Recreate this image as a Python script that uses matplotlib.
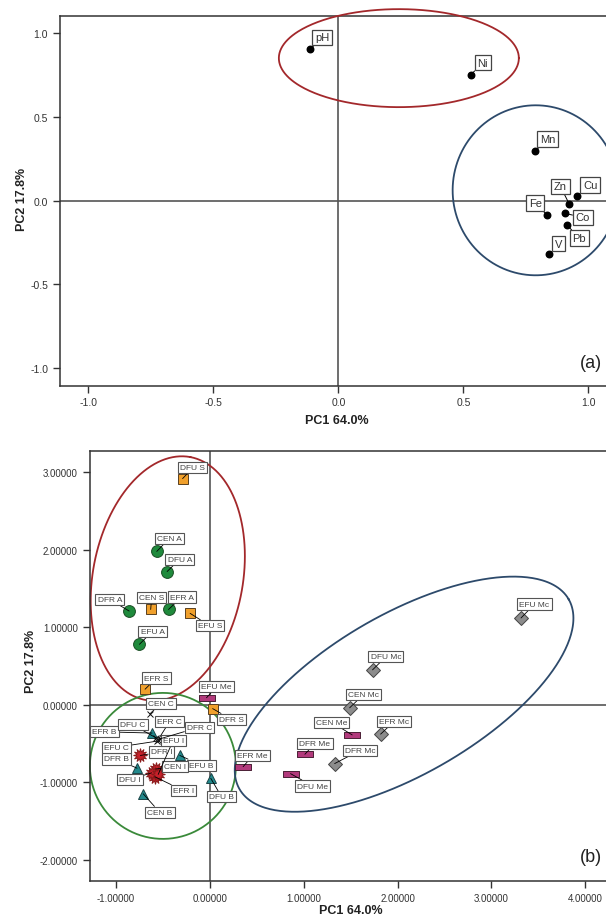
import numpy as np
import matplotlib
matplotlib.use('Agg')
import matplotlib.pyplot as plt
from matplotlib.path import Path
from matplotlib.ticker import FormatStrFormatter

plt.rcParams['font.family'] = ['Liberation Sans', 'DejaVu Sans']

# ---- panel (a): loadings ----
var_names = ['pH', 'Ni', 'Mn', 'Cu', 'Zn', 'Co', 'Fe', 'Pb', 'V']
pc1_load = [-0.113, 0.530, 0.788, 0.955, 0.924, 0.906, 0.835, 0.915, 0.844]
pc2_load = [0.904, 0.753, 0.297, 0.028, -0.022, -0.076, -0.086, -0.146, -0.317]

# ---- panel (b): scores by group ----
names_A = ['CEN A', 'DFU A', 'DFR A', 'EFR A', 'EFU A']
pc1_A = [-0.565, -0.455, -0.86, -0.44, -0.75]
pc2_A = [1.98, 1.72, 1.21, 1.23, 0.78]

names_S = ['DFU S', 'CEN S', 'EFU S', 'EFR S', 'DFR S']
pc1_S = [-0.29, -0.63, -0.21, -0.69, 0.03]
pc2_S = [2.92, 1.23, 1.18, 0.20, -0.05]

names_Me = ['EFU Me', 'CEN Me', 'DFR Me', 'DFU Me', 'EFR Me']
pc1_Me = [-0.035, 1.517, 1.013, 0.86, 0.355]
pc2_Me = [0.09, -0.39, -0.64, -0.89, -0.80]

names_Mc = ['EFU Mc', 'DFU Mc', 'CEN Mc', 'EFR Mc', 'DFR Mc']
pc1_Mc = [3.316, 1.734, 1.49, 1.82, 1.33]
pc2_Mc = [1.12, 0.45, -0.04, -0.38, -0.76]

names_B = ['EFR B', 'EFU B', 'DFR B', 'CEN B', 'DFU B']
pc1_B = [-0.615, -0.32, -0.775, -0.71, 0.01]
pc2_B = [-0.366, -0.655, -0.82, -1.15, -0.95]

names_I = ['DFR I', 'CEN I', 'EFR I', 'DFU I', 'EFU I']
pc1_I = [-0.74, -0.576, -0.586, -0.62, -0.55]
pc2_I = [-0.655, -0.83, -0.93, -0.88, -0.90]

names_C = ['CEN C', 'DFU C', 'EFR C', 'DFR C', 'EFU C']
pc1_C = [-0.64, -0.57, -0.55, -0.53, -0.56]
pc2_C = [-0.12, -0.43, -0.45, -0.44, -0.47]

# label placement (layout only)
lab_off_a = {'pH': (12, 12), 'Ni': (12, 12), 'Mn': (12, 12), 'Cu': (13, 11),
             'Zn': (-9, 18), 'Co': (18, -4), 'Fe': (-12, 12), 'Pb': (12, -13),
             'V': (9, 10)}
lab_pos_b = {
    'CEN A': (-0.43, 2.15), 'DFU A': (-0.32, 1.88), 'DFR A': (-1.066, 1.36),
    'EFR A': (-0.30, 1.39), 'EFU A': (-0.61, 0.95),
    'DFU S': (-0.18, 3.06), 'CEN S': (-0.62, 1.38), 'EFU S': (0.0, 1.02),
    'EFR S': (-0.57, 0.345), 'DFR S': (0.23, -0.19),
    'EFU Me': (0.07, 0.23), 'CEN Me': (1.297, -0.225), 'DFR Me': (1.12, -0.50),
    'DFU Me': (1.095, -1.05), 'EFR Me': (0.455, -0.66),
    'EFU Mc': (3.46, 1.30), 'DFU Mc': (1.876, 0.62), 'CEN Mc': (1.635, 0.13),
    'EFR Mc': (1.965, -0.215), 'DFR Mc': (1.60, -0.59),
    'EFR B': (-1.12, -0.35), 'EFU B': (-0.09, -0.78), 'DFR B': (-0.995, -0.70),
    'CEN B': (-0.533, -1.39), 'DFU B': (0.125, -1.19),
    'DFR I': (-0.515, -0.61), 'CEN I': (-0.373, -0.80), 'EFR I': (-0.28, -1.11),
    'DFU I': (-0.853, -0.965), 'EFU I': (-0.39, -0.46),
    'CEN C': (-0.52, 0.02), 'DFU C': (-0.82, -0.26), 'EFR C': (-0.43, -0.22),
    'DFR C': (-0.11, -0.29), 'EFU C': (-0.995, -0.55),
}

rect = Path([(-1, -0.45), (1, -0.45), (1, 0.45), (-1, 0.45), (-1, -0.45)],
            [Path.MOVETO, Path.LINETO, Path.LINETO, Path.LINETO, Path.CLOSEPOLY])


def draw_ellipse(ax, cx, cy, a, b, angle, color):
    # semi-axes given in pixels, angle in degrees on screen
    t = np.linspace(0, 2 * np.pi, 400)
    ox, oy = ax.transData.transform((cx, cy))
    th = np.deg2rad(angle)
    px = ox + a * np.cos(t) * np.cos(th) - b * np.sin(t) * np.sin(th)
    py = oy + a * np.cos(t) * np.sin(th) + b * np.sin(t) * np.cos(th)
    pts = ax.transData.inverted().transform(np.column_stack([px, py]))
    ax.plot(pts[:, 0], pts[:, 1], color=color, lw=1.3, clip_on=False, zorder=2)


def style_axes(ax):
    for s in ['top', 'right']:
        ax.spines[s].set_visible(False)
    for s in ['left', 'bottom']:
        ax.spines[s].set_color('#333333')
        ax.spines[s].set_linewidth(1.1)
    ax.plot([0, 1], [1, 1], transform=ax.transAxes, color='#333333', lw=1.1, clip_on=False)
    ax.tick_params(direction='out', length=5, width=1, colors='#333333', labelsize=7.5)
    ax.axhline(0, color='#555555', lw=1.2, zorder=1)
    ax.axvline(0, color='#555555', lw=1.2, zorder=1)


fig = plt.figure(figsize=(6.06, 9.2), dpi=100)

# ---------------- (a) ----------------
ax1 = fig.add_axes([0.099, 0.5797, 0.912, 0.4022])
ax1.set_xlim(-1.113, 1.097)
ax1.set_ylim(-1.106, 1.106)
style_axes(ax1)
ax1.set_xticks([-1.0, -0.5, 0.0, 0.5, 1.0])
ax1.set_yticks([-1.0, -0.5, 0.0, 0.5, 1.0])
ax1.xaxis.set_major_formatter(FormatStrFormatter('%.1f'))
ax1.yaxis.set_major_formatter(FormatStrFormatter('%.1f'))
ax1.scatter(pc1_load, pc2_load, s=22, color='black', zorder=4)
for n, x, y in zip(var_names, pc1_load, pc2_load):
    ax1.annotate(n, xy=(x, y), xytext=lab_off_a[n], textcoords='offset pixels',
                 ha='center', va='center', fontsize=8, color='#333333', zorder=5,
                 bbox=dict(boxstyle='square,pad=0.25', fc='white', ec='#444444', lw=0.9),
                 arrowprops=dict(arrowstyle='-', color='black', lw=0.7, shrinkA=0, shrinkB=0))
draw_ellipse(ax1, 0.242, 0.852, 120, 49, 0, '#a3282b')
draw_ellipse(ax1, 0.789, 0.062, 83, 85, 0, '#2d4a6b')
ax1.text(1.01, -0.97, '(a)', fontsize=13, ha='center', va='center', color='#222222')
ax1.set_xlabel('PC1 64.0%', fontsize=9, fontweight='bold', color='#222222')
ax1.set_ylabel('PC2 17.8%', fontsize=9, fontweight='bold', color='#222222')
ax1.xaxis.set_label_coords(0.5, -0.0765)
ax1.yaxis.set_label_coords(-0.058, 0.505)

# ---------------- (b) ----------------
ax2 = fig.add_axes([0.148, 0.041, 0.862, 0.468])
ax2.set_xlim(-1.28, 4.286)
ax2.set_ylim(-2.28, 3.28)
style_axes(ax2)
ax2.set_xticks([-1, 0, 1, 2, 3, 4])
ax2.set_yticks([-2, -1, 0, 1, 2, 3])
ax2.xaxis.set_major_formatter(FormatStrFormatter('%.5f'))
ax2.yaxis.set_major_formatter(FormatStrFormatter('%.5f'))
ax2.tick_params(labelsize=7)

groups = [
    (names_A, pc1_A, pc2_A, dict(marker='o', ms=8.5, mfc='#1f8a3c', mec='#1a4d24')),
    (names_S, pc1_S, pc2_S, dict(marker='s', ms=6.5, mfc='#f0a02c', mec='#5a4020')),
    (names_Me, pc1_Me, pc2_Me, dict(marker=rect, ms=11, mfc='#b23a7c', mec='#4a2035')),
    (names_Mc, pc1_Mc, pc2_Mc, dict(marker='D', ms=7, mfc='#8c8c8c', mec='#444444')),
    (names_B, pc1_B, pc2_B, dict(marker='^', ms=7.5, mfc='#22898c', mec='#1a4446')),
    (names_I, pc1_I, pc2_I, dict(marker=(12, 1, 0), ms=10, mfc='#c8202a', mec='#8a1a1a')),
    (names_C, pc1_C, pc2_C, dict(marker='x', ms=5, mfc='none', mec='#111111')),
]
for names, xs, ys, st in groups:
    ax2.plot(xs, ys, ls='none', mew=0.7, zorder=4, **st)
    for n, x, y in zip(names, xs, ys):
        ax2.annotate(n, xy=(x, y), xytext=lab_pos_b[n], textcoords='data',
                     ha='center', va='center', fontsize=6, color='#444444', zorder=5,
                     bbox=dict(boxstyle='square,pad=0.25', fc='white', ec='#555555', lw=0.8),
                     arrowprops=dict(arrowstyle='-', color='black', lw=0.6, shrinkA=0, shrinkB=0))

draw_ellipse(ax2, -0.448, 1.63, 123.5, 75, 79.5, '#a3282b')
draw_ellipse(ax2, -0.50, -0.79, 73, 73, 0, '#3a8a3a')
draw_ellipse(ax2, 2.07, 0.136, 190, 80, 30, '#2d4a6b')
ax2.text(4.06, -1.96, '(b)', fontsize=13, ha='center', va='center', color='#222222')
ax2.set_xlabel('PC1 64.0%', fontsize=9, fontweight='bold', color='#222222')
ax2.set_ylabel('PC2 17.8%', fontsize=9, fontweight='bold', color='#222222')
ax2.xaxis.set_label_coords(0.5, -0.052)
ax2.yaxis.set_label_coords(-0.10, 0.512)

fig.savefig('out.png', dpi=100)
